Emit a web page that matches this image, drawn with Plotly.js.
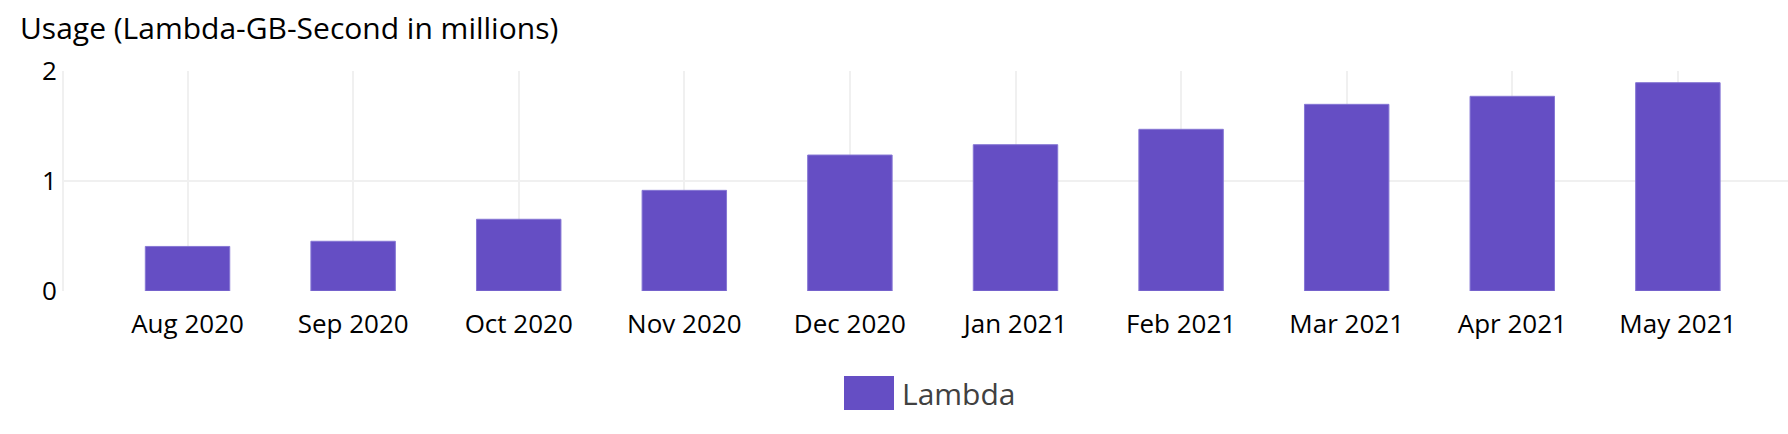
<!DOCTYPE html>
<html>
<head>
<meta charset="utf-8">
<script src="https://cdn.plot.ly/plotly-3.0.1.min.js"></script>
<style>html,body{margin:0;padding:0;background:#fff;}#chart{width:1788px;height:434px;}</style>
</head>
<body>
<div id="chart"></div>
<script>
const months = ["Aug 2020","Sep 2020","Oct 2020","Nov 2020","Dec 2020","Jan 2021","Feb 2021","Mar 2021","Apr 2021","May 2021"];
const lambdaUsage = [0.405, 0.452, 0.652, 0.915, 1.236, 1.330, 1.470, 1.697, 1.770, 1.894];
const yTicks = [0, 1, 2];
const seriesName = "Lambda";
const chartTitle = "Usage (Lambda-GB-Second in millions)";

const W = 1788, H = 434;
const L = 64, R = 0, T = 71, B = 143;
const pw = W - L - R, ph = H - T - B;
const px = v => (v - L) / pw;
const py = v => (H - B - v) / ph;

const barColor = "#654EC4";
const font = "Open Sans, Noto Sans, sans-serif";

const trace = {
  type: "bar",
  x: months,
  y: lambdaUsage,
  name: seriesName,
  marker: {color: barColor, line: {color: "#8677d4", width: 1}},
  showlegend: false,
  hoverinfo: "x+y"
};

const layout = {
  width: W, height: H,
  margin: {l: L, r: R, t: T, b: B, pad: 0},
  paper_bgcolor: "#fff",
  plot_bgcolor: "#fff",
  bargap: 0.49,
  font: {family: font, color: "#000"},
  title: {
    text: chartTitle,
    font: {family: font, size: 30, color: "#000"},
    xref: "container", x: 20 / W, xanchor: "left",
    yref: "container", y: 1 - 18 / H, yanchor: "top"
  },
  xaxis: {
    type: "category",
    range: [-0.746, 9.665],
    showgrid: true, gridcolor: "#f0f0f0", gridwidth: 2,
    zeroline: false, showline: false,
    ticks: "outside", ticklen: 10, tickcolor: "rgba(0,0,0,0)",
    tickfont: {family: font, size: 26, color: "#000"},
    fixedrange: true
  },
  yaxis: {
    range: [0, 2],
    tickvals: yTicks,
    ticktext: yTicks.map(String),
    showgrid: true, gridcolor: "#f0f0f0", gridwidth: 2,
    zeroline: false,
    showline: true, linecolor: "#f0f0f0", linewidth: 2,
    ticks: "",
    tickfont: {family: font, size: 26, color: "#000"},
    fixedrange: true
  },
  shapes: [{
    type: "rect", xref: "paper", yref: "paper",
    x0: px(844), x1: px(894), y0: py(410), y1: py(376),
    fillcolor: barColor, line: {width: 0}
  }],
  annotations: [{
    xref: "paper", yref: "paper",
    x: px(900), y: py(393), xanchor: "left", yanchor: "middle",
    text: seriesName, showarrow: false,
    font: {family: font, size: 30, color: "#414141"}
  }]
};

Plotly.newPlot("chart", [trace], layout, {displayModeBar: false, staticPlot: true});
</script>
</body>
</html>
